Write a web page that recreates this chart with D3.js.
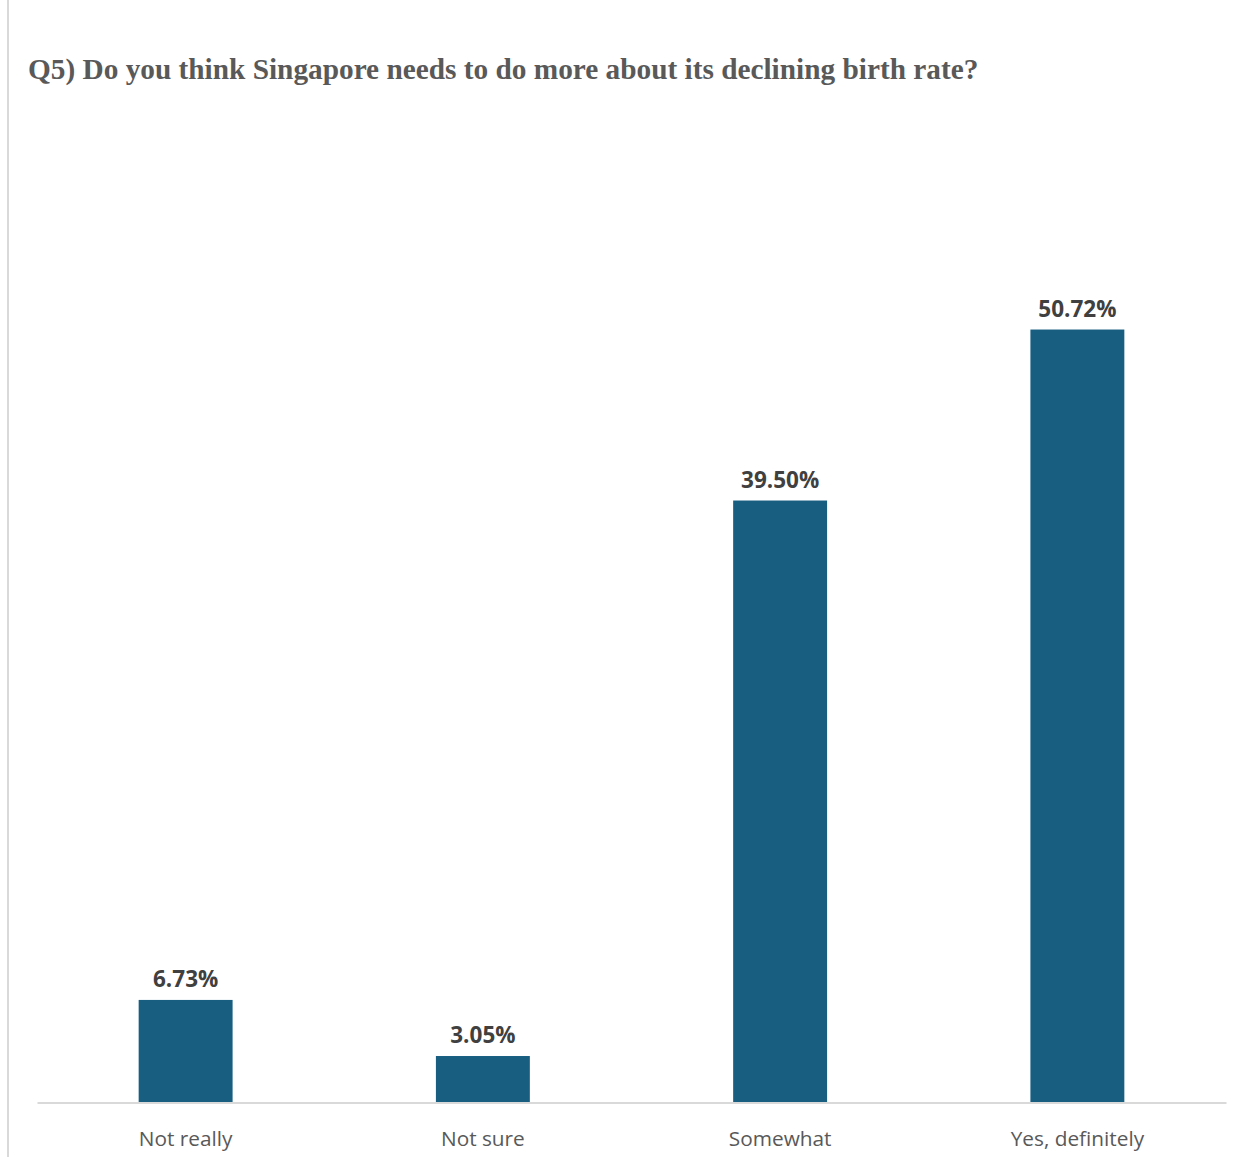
<!DOCTYPE html>
<html>
<head>
<meta charset="utf-8">
<script src="https://cdn.jsdelivr.net/npm/d3@7"></script>
<style>
  html, body { margin: 0; padding: 0; background: #fff; }
  svg { display: block; }
</style>
</head>
<body>
<svg id="chart" width="1248" height="1158"></svg>
<script>
// Survey responses (share of respondents, %)
const categories = ["Not really", "Not sure", "Somewhat", "Yes, definitely"];
const values = [6.73, 3.05, 39.50, 50.72];
const valueLabels = ["6.73%", "3.05%", "39.50%", "50.72%"];
const title = "Q5) Do you think Singapore needs to do more about its declining birth rate?";

const W = 1248, H = 1158;
const margin = { left: 37, right: 22, top: 188, bottom: 55 };
const baseY = 1102.5;

const svg = d3.select("#chart");

// frame edge on the left
svg.append("line")
  .attr("x1", 8).attr("x2", 8)
  .attr("y1", 0).attr("y2", 1157)
  .attr("stroke", "#d9d9d9").attr("stroke-width", 2);

// title
svg.append("text")
  .attr("x", 28).attr("y", 79)
  .attr("font-family", "'Liberation Serif', 'Times New Roman', serif")
  .attr("font-weight", "bold")
  .attr("font-size", 29.3)
  .attr("fill", "#595959")
  .text(title);

const x = d3.scaleBand()
  .domain(categories)
  .range([margin.left, W - margin.right])
  .paddingInner(0.684)
  .paddingOuter(0.342);

const y = d3.scaleLinear()
  .domain([0, 60])
  .range([baseY, baseY - 60 * 15.24]);

const data = categories.map((c, i) => ({ c, v: values[i], label: valueLabels[i] }));

// bars
svg.append("g").selectAll("rect")
  .data(data)
  .join("rect")
  .attr("x", d => x(d.c))
  .attr("y", d => y(d.v))
  .attr("width", x.bandwidth())
  .attr("height", d => y(0) - y(d.v))
  .attr("fill", "#175e80");

// baseline axis
const axis = d3.axisBottom(x).tickSize(0).tickPadding(0);
const gAxis = svg.append("g")
  .attr("transform", `translate(0,${baseY})`)
  .call(axis);
gAxis.select(".domain")
  .attr("stroke", "#d9d9d9").attr("stroke-width", 2);
gAxis.selectAll(".tick text")
  .attr("dy", 0)
  .attr("y", 43)
  .attr("font-family", "'Open Sans', 'Noto Sans', sans-serif")
  .attr("font-size", 20.8)
  .attr("fill", "#595959");

// value labels
svg.append("g").selectAll("text")
  .data(data)
  .join("text")
  .attr("x", d => x(d.c) + x.bandwidth() / 2)
  .attr("y", d => y(d.v) - 13)
  .attr("text-anchor", "middle")
  .attr("font-family", "'Open Sans', 'Noto Sans', sans-serif")
  .attr("font-weight", "bold")
  .attr("font-size", 22.5)
  .attr("fill", "#404040")
  .text(d => d.label);
</script>
</body>
</html>
